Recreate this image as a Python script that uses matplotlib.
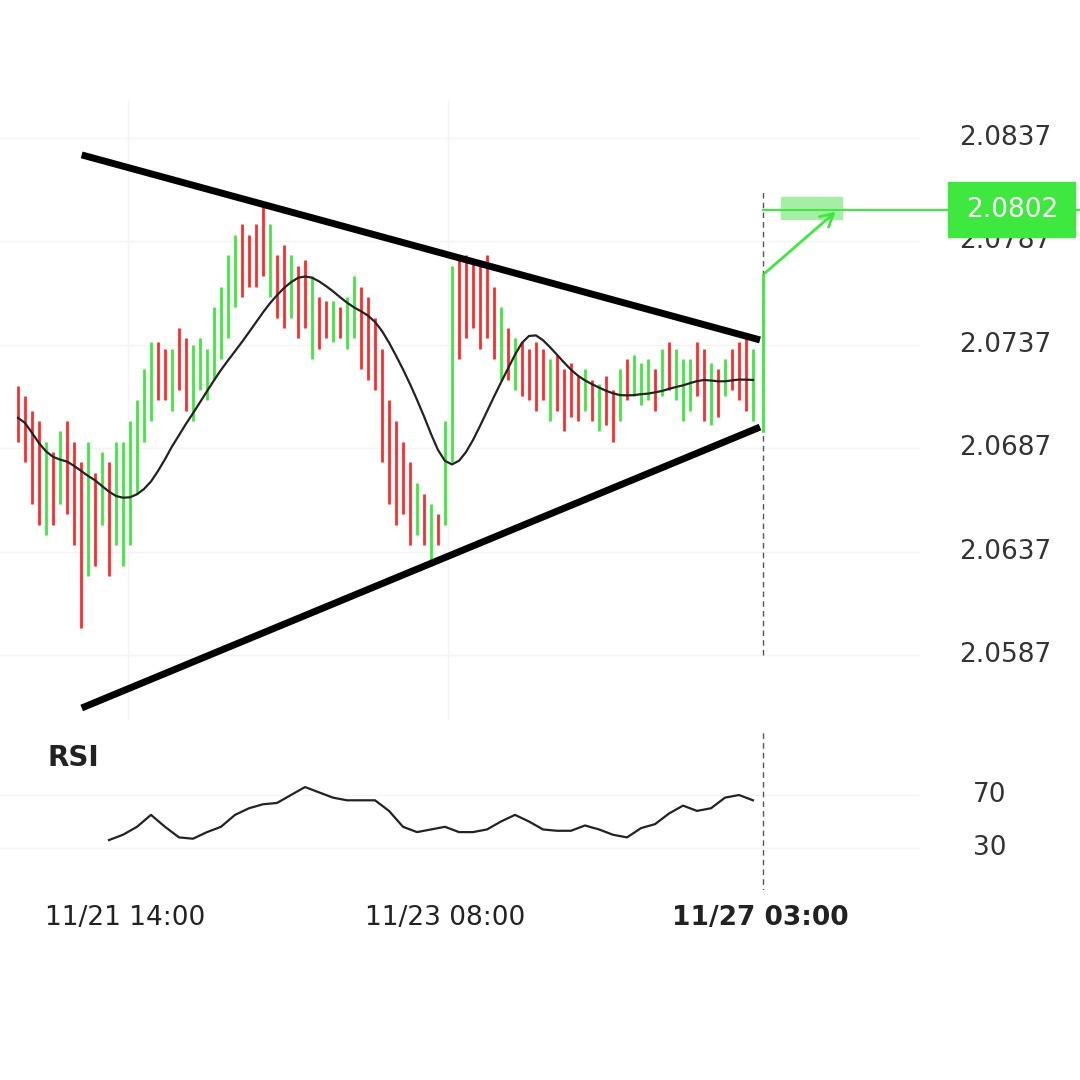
import numpy as np
import pandas as pd
import matplotlib
matplotlib.use("Agg")
import matplotlib.pyplot as plt
from matplotlib.patches import Rectangle

# ---------------------------------------------------------------- data
highs = [2.0717, 2.0712, 2.0705, 2.0700, 2.0690, 2.0685, 2.0695, 2.0700, 2.0690, 2.0680, 2.0690, 2.0675, 2.0685, 2.0680, 2.0690, 2.0690,
         2.0700, 2.0710, 2.0725, 2.0738, 2.0738, 2.0735, 2.0735, 2.0745, 2.0740, 2.0737, 2.0740, 2.0735, 2.0755, 2.0765, 2.0780, 2.0790, 2.0795, 2.0790,
         2.0795, 2.0805, 2.0795, 2.0780, 2.0785, 2.0780, 2.0775, 2.0778, 2.0770, 2.0760, 2.0758, 2.0758, 2.0755, 2.0760, 2.0770, 2.0765, 2.0760,
         2.0750, 2.0735, 2.0710, 2.0700, 2.0690, 2.0680, 2.0670, 2.0665, 2.0660, 2.0655, 2.0700,
         2.0775, 2.0780, 2.0780, 2.0778, 2.0775, 2.0780, 2.0765, 2.0755, 2.0745,
         2.0740, 2.0738, 2.0735, 2.0738, 2.0735, 2.0730, 2.0732, 2.0725, 2.0728, 2.0722, 2.0725, 2.0720, 2.0718, 2.0722, 2.0715, 2.0725, 2.0730,
         2.0732, 2.0728, 2.0730, 2.0725, 2.0735, 2.0738, 2.0735, 2.0730, 2.0730, 2.0738, 2.0735, 2.0728, 2.0725, 2.0730, 2.0735, 2.0738, 2.0740, 2.0735]
lows = [2.0690, 2.0680, 2.0660, 2.0650, 2.0645, 2.0650, 2.0660, 2.0655, 2.0640, 2.0600, 2.0625, 2.0630, 2.0650, 2.0625, 2.0640, 2.0630,
        2.0640, 2.0665, 2.0690, 2.0700, 2.0710, 2.0710, 2.0705, 2.0715, 2.0705, 2.0700, 2.0715, 2.0710, 2.0720, 2.0730, 2.0740, 2.0755, 2.0760, 2.0765,
        2.0765, 2.0770, 2.0760, 2.0750, 2.0745, 2.0750, 2.0740, 2.0745, 2.0730, 2.0735, 2.0740, 2.0738, 2.0740, 2.0735, 2.0740, 2.0725, 2.0720,
        2.0715, 2.0680, 2.0660, 2.0650, 2.0655, 2.0640, 2.0645, 2.0640, 2.0630, 2.0640, 2.0650,
        2.0680, 2.0730, 2.0740, 2.0745, 2.0735, 2.0740, 2.0730, 2.0720, 2.0720,
        2.0715, 2.0712, 2.0710, 2.0705, 2.0710, 2.0700, 2.0705, 2.0695, 2.0702, 2.0700, 2.0705, 2.0700, 2.0695, 2.0698, 2.0690, 2.0700, 2.0710,
        2.0712, 2.0708, 2.0710, 2.0705, 2.0712, 2.0715, 2.0710, 2.0700, 2.0705, 2.0712, 2.0700, 2.0698, 2.0702, 2.0712, 2.0715, 2.0710, 2.0705, 2.0700]
colors = ("rrrrgrgrrrgrgrgg"
          "ggggrrgrrgggggggrr"
          "rrgrrgrrgrrgrggrr"
          "rrrrrrgrgrg"
          "grrrrrrgr"
          "grrrrgrrrrgrgrrgrgggrgrgggrrgrgrrrg")

rsi_bars = list(range(13, 106, 2))
rsi_vals = [36, 40, 46, 55, 46, 38, 37, 42, 46, 55, 60, 63, 64, 70, 76, 72, 68, 66, 66, 66,
            58, 46, 42, 44, 46, 42, 42, 44, 50, 55, 50, 44, 43, 43, 47, 44, 40, 38, 45, 48,
            56, 62, 58, 60, 68, 70, 66]

price_ticks = [2.0587, 2.0637, 2.0687, 2.0737, 2.0787, 2.0837]
rsi_ticks = [30, 70]
upper_line = ([9.1, 106.0], [2.08286, 2.07392])
lower_line = ([9.1, 106.0], [2.05614, 2.06971])
target = 2.0802
now_x = 106.4

RED, GREEN = "#ff2a2a", "#3ee83e"

# ---------------------------------------------------------------- figure
fig = plt.figure(figsize=(10.8, 10.8), dpi=100)
W = H = 1080.0

def px_axes(top, bottom):
    return fig.add_axes([0, 1 - bottom / H, 1, (bottom - top) / H])

ax = px_axes(100, 720)
ax.set_xlim((0 - 18) / 7, (1080 - 18) / 7)
ax.set_ylim(2.0587 - 65 * 0.00004831, 2.0587 + 555 * 0.00004831)
ax.axis("off")

for p in price_ticks:
    ax.axhline(p, xmin=0, xmax=0.85, color="#f4f4f4", lw=1, zorder=0)
for gx in [15.7, 61.4]:
    ax.axvline(gx, color="#f4f4f4", lw=1, zorder=0)

n = len(highs)
idx = np.arange(n)
cols = [GREEN if c == "g" else RED for c in colors]
ax.vlines(idx, lows, highs, colors=cols, lw=2.0, zorder=2)

# moving average of bar midpoints
mid = (np.array(highs) + np.array(lows)) / 2
ma = pd.Series(mid).rolling(12, min_periods=1).mean().rolling(3, min_periods=1, center=True).mean()
ax.plot(idx, ma, color="#222222", lw=1.6, zorder=3)

ax.plot(*upper_line, color="black", lw=5, solid_capstyle="butt", zorder=4)
ax.plot(*lower_line, color="black", lw=5, solid_capstyle="butt", zorder=4)

ax.plot([now_x, now_x], [2.0587, 2.0812], color="#555555", lw=1, ls=(0, (4, 3)), zorder=1)

# projection
ax.plot([now_x, now_x], [2.0695, 2.07706], color=GREEN, lw=2, zorder=5)
ax.annotate("", xy=(117.1, target), xytext=(now_x, 2.07706),
            arrowprops=dict(arrowstyle="->,head_length=0.9,head_width=0.5", color=GREEN, lw=2), zorder=5)
ax.plot([now_x, 152], [target, target], color=GREEN, lw=1.5, zorder=5)
ax.add_patch(Rectangle((109.0, 2.07975), 8.7, 0.00108, color="#a6eea6", zorder=4))

for p in price_ticks:
    ax.text(1005 / 7 - 18 / 7, p, f"{p:.4f}", ha="center", va="center", fontsize=19, color="#333333")
ax.add_patch(Rectangle((948 / 7 - 18 / 7, target - 0.0013), 127 / 7, 0.00265, color=GREEN, zorder=6))
ax.text(1012 / 7 - 18 / 7, target, f"{target:.4f}", ha="center", va="center", fontsize=19, color="white", zorder=7)

# RSI panel
rx = px_axes(730, 890)
rx.set_xlim(ax.get_xlim())
rx.set_ylim(70 - 95 * 0.7547, 70 + 65 * 0.7547)
rx.axis("off")
for r in rsi_ticks:
    rx.axhline(r, xmax=0.85, color="#f4f4f4", lw=1, zorder=0)
    rx.text(1005 / 7 - 18 / 7 - 2.2, r, str(r), ha="center", va="center", fontsize=19, color="#333333")
rx.plot(rsi_bars, rsi_vals, color="#222222", lw=1.6)
rx.plot([now_x, now_x], [-5, 130], color="#555555", lw=1, ls=(0, (4, 3)))
rx.text((48 - 18) / 7, 98, "RSI", fontsize=20, fontweight="bold", color="#222222", va="center")

# time labels
fig.text(125 / W, 1 - 918 / H, "11/21 14:00", ha="center", va="center", fontsize=19, color="#222222")
fig.text(445 / W, 1 - 918 / H, "11/23 08:00", ha="center", va="center", fontsize=19, color="#222222")
fig.text(760 / W, 1 - 918 / H, "11/27 03:00", ha="center", va="center", fontsize=19, color="#222222", fontweight="bold")

fig.savefig("out.png", dpi=100, facecolor="white")
